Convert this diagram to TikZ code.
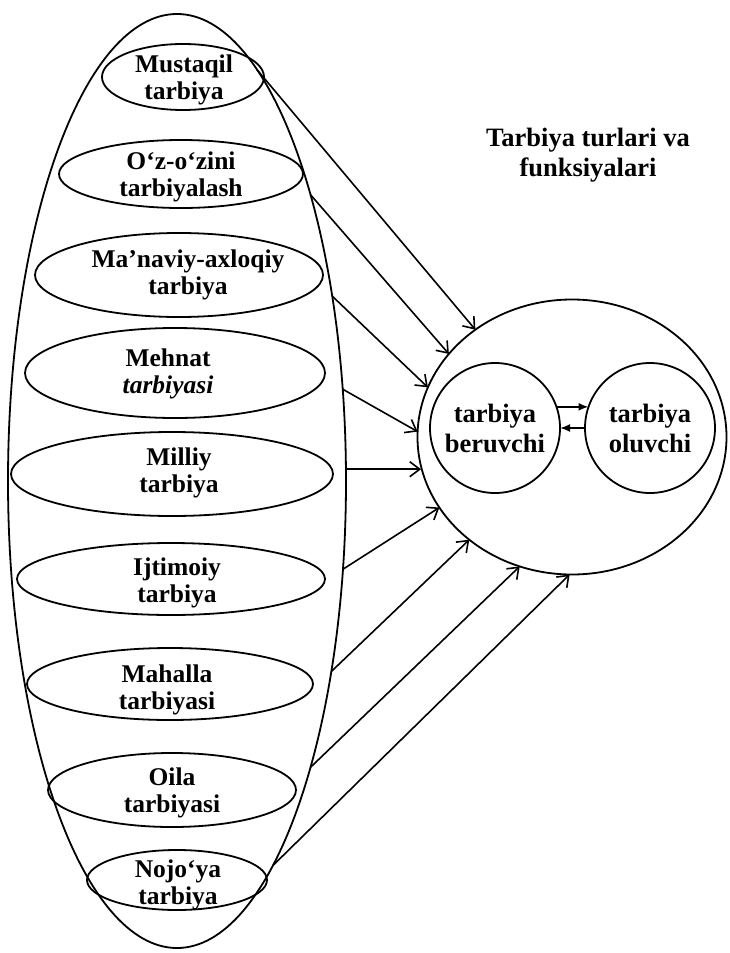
\documentclass[tikz,border=0pt]{standalone}
\usepackage{fontspec}
\setmainfont{Liberation Serif}
\usetikzlibrary{shapes.geometric,arrows.meta}

\begin{document}
\begin{tikzpicture}[x=1pt,y=-1pt,
  tur/.style={ellipse, draw, line width=1.8pt, inner sep=0pt, outer sep=0pt},
  yozuv/.style={align=center, inner sep=0pt, font=\fontsize{25.5}{27}\selectfont\bfseries},
  doira/.style={circle, draw, line width=1.8pt, inner sep=0pt, outer sep=0pt, minimum size=130pt, align=center, font=\fontsize{26.5}{30}\selectfont\bfseries},
  oqim/.style={line width=1.6pt, -{Straight Barb[length=10pt,width=15pt]}},
  almash/.style={line width=1.8pt, -{Latex[length=10pt,width=8pt]}}]
\useasboundingbox (0,0) rectangle (729,953);

% Big ellipse with the kinds of upbringing
\node[tur, minimum width=338pt, minimum height=934pt] (turlar) at (177,481) {};

% Inner ellipses and their texts
\node[tur, minimum width=162pt, minimum height=66pt] (mustaqil) at (183,77) {};
\node[yozuv] (mustaqil-y) at (184,80) {Mustaqil\\tarbiya};
\node[tur, minimum width=244pt, minimum height=68pt] (ozini) at (181,174) {};
\node[yozuv] (ozini-y) at (181,177) {O‘z-o‘zini\\tarbiyalash};
\node[tur, minimum width=288pt, minimum height=84pt] (manaviy) at (179,275) {};
\node[yozuv] (manaviy-y) at (188,275) {Ma’naviy-axloqiy\\tarbiya};
\node[tur, minimum width=300pt, minimum height=90pt] (mehnat) at (175,373) {};
\node[yozuv] (mehnat-y) at (168,374) {Mehnat\\\textit{tarbiyasi}};
\node[tur, minimum width=322pt, minimum height=84pt] (milliy) at (172,474) {};
\node[yozuv] (milliy-y) at (179,473) {Milliy\\tarbiya};
\node[tur, minimum width=308pt, minimum height=72pt] (ijtimoiy) at (171,579) {};
\node[yozuv] (ijtimoiy-y) at (177,583) {Ijtimoiy\\tarbiya};
\node[tur, minimum width=286pt, minimum height=72pt] (mahalla) at (170,684) {};
\node[yozuv] (mahalla-y) at (167,690) {Mahalla\\tarbiyasi};
\node[tur, minimum width=248pt, minimum height=74pt] (oila) at (172,790) {};
\node[yozuv] (oila-y) at (172,793) {Oila\\tarbiyasi};
\node[tur, minimum width=180pt, minimum height=60pt] (nojoya) at (177,880) {};
\node[yozuv] (nojoya-y) at (178,885) {Nojo‘ya\\tarbiya};

% Title
\node[align=center, font=\fontsize{26.5}{30}\selectfont\bfseries] (sarlavha) at (588,155) {Tarbiya turlari va\\funksiyalari};

% Right ellipse with the two circles
\node[tur, minimum width=309pt, minimum height=275pt] (funk) at (572,437) {};
\node[doira] (bero) at (495,428) {tarbiya\\beruvchi};
\node[doira] (olu) at (650,428) {tarbiya\\oluvchi};
\draw[almash] (bero.19) -- (olu.161);
\draw[almash] (olu.180) -- (bero.0);

% Arrows from the big ellipse to the right one
\draw[oqim] (turlar.79) -- (funk.132.8);
\draw[oqim] (turlar.65.7) -- (funk.146.6);
\draw[oqim] (turlar.50.1) -- (funk.161.9);
\draw[oqim] (turlar.29.5) -- (funk.178.9);
\draw[oqim] (turlar.4) -- (funk.191.9 |- turlar.4);
\draw[oqim] (turlar.-28.9) -- (funk.208.2);
\draw[oqim] (turlar.-51.5) -- (funk.225.3);
\draw[oqim] (turlar.-65.7) -- (funk.248.6);
\draw[oqim] (turlar.-76.8) -- (funk.269.2);
\end{tikzpicture}
\end{document}
